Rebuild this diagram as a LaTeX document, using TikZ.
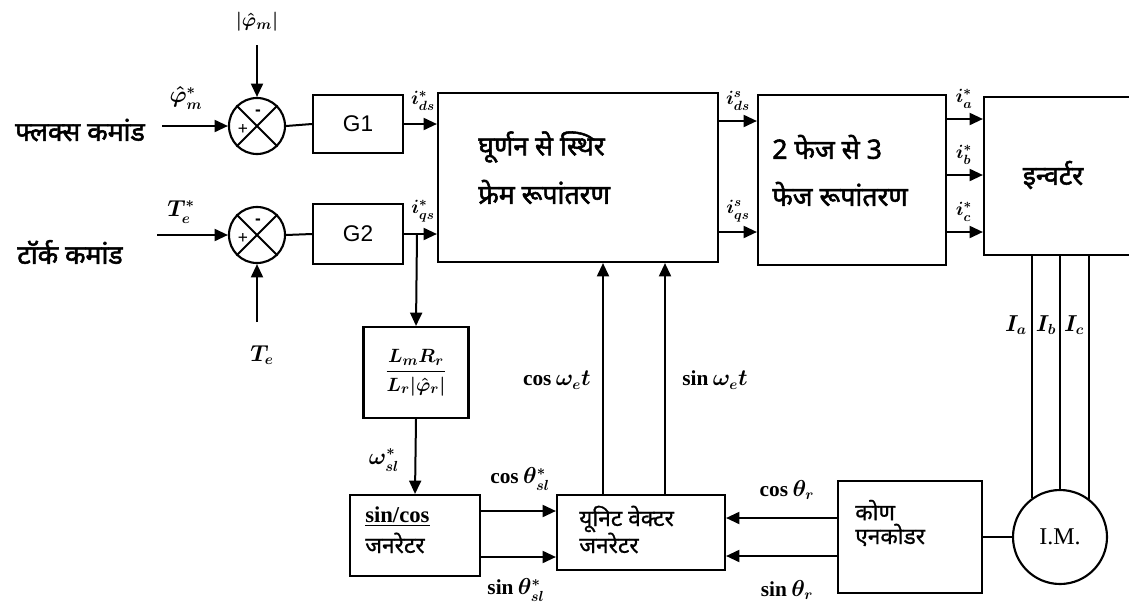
\documentclass[tikz,border=0pt]{standalone}
\usepackage{amsmath}
\usepackage{fontspec}
\setmainfont{Liberation Serif}
\newfontfamily\hindi[Script=Devanagari, FakeBold=0.8]{Noto Sans}
\newfontfamily\hindib[Script=Devanagari, FakeBold=2]{Noto Sans}
\newfontfamily\sansf{Liberation Sans}
\usetikzlibrary{arrows.meta,calc}
\tikzset{
 blk/.style={draw, line width=1.6pt, rectangle, inner sep=2pt},
 sumj/.style={draw, circle, line width=1.6pt, minimum size=42pt, inner sep=0pt},
 arr/.style={line width=1.5pt, -{Triangle[length=10pt,width=9pt]}},
 ln/.style={line width=1.5pt},
 lbl/.style={font=\boldmath\fontsize{16}{18}\selectfont, inner sep=0pt},
 ilbl/.style={font=\boldmath\fontsize{14}{16}\selectfont, inner sep=0pt},
 hl/.style={font=\hindib\fontsize{20}{22}\selectfont, inner sep=0pt},
 hs/.style={font=\hindi\fontsize{17}{17}\selectfont, inner sep=0pt},
}
\begin{document}
\begin{tikzpicture}[x=0.75pt,y=-0.75pt]
\useasboundingbox (0,0) rectangle (1129,604);
% summing junctions
\node[sumj] (S1) at (257,126) {};
\node[sumj] (S2) at (257,235) {};
\foreach \s in {S1,S2}{
  \draw[ln] (\s.45) -- (\s.225) (\s.135) -- (\s.315);
  \node[font=\sansf\fontsize{13}{13}\selectfont, inner sep=0pt] at ($(\s)+(-14,3)$) {+};
  \node[font=\sansf\bfseries\fontsize{13}{13}\selectfont, inner sep=0pt] at ($(\s)+(1,-13)$) {-};
}
% blocks
\node[blk, minimum width=67.5pt, minimum height=43.5pt, font=\sansf\fontsize{17}{19}\selectfont] (G1) at (358,124) {G1};
\node[blk, minimum width=67.5pt, minimum height=45pt, font=\sansf\fontsize{17}{19}\selectfont] (G2) at (358,234) {G2};
\node[blk, minimum width=210pt, minimum height=126.75pt] (R) at (578,177.5) {};
\node[hl, anchor=west] (Rt1) at (478,147) {घूर्णन से स्थिर};
\node[hl, anchor=west] (Rt2) at (478,192) {फ्रेम रूपांतरण};
\node[blk, minimum width=141pt, minimum height=127.5pt] (P) at (852,180) {};
\node[hl, anchor=west] (Pt1) at (772,147) {2 फेज से 3};
\node[hl, anchor=west] (Pt2) at (772,194) {फेज रूपांतरण};
\node[blk, minimum width=117pt, minimum height=118.5pt] (INV) at (1062,176) {};
\node[hl] (INVt) at (1053,175) {इन्वर्टर};
\node[blk, minimum width=78.75pt, minimum height=68.25pt, font=\boldmath\fontsize{15}{17}\selectfont] (LB) at (416,372.5) {$\displaystyle\frac{L_m R_r}{L_r\lvert\hat{\varphi}_r\rvert}$};
\node[blk, minimum width=97.5pt, minimum height=60.75pt] (SC) at (415,535.5) {};
\node[inner sep=0pt, anchor=west, font=\bfseries\fontsize{17}{17}\selectfont] (SCt1) at (365,517) {\underline{sin/cos}};
\node[hs, anchor=west] (SCt2) at (365,543) {जनरेटर};
\node[blk, minimum width=126pt, minimum height=56.25pt] (UV) at (641,532.5) {};
\node[hs, anchor=west] (UVt1) at (579,519) {यूनिट वेक्टर};
\node[hs, anchor=west] (UVt2) at (579,543) {जनरेटर};
\node[blk, minimum width=108pt, minimum height=84pt] (E) at (910,537) {};
\node[hs, anchor=west] (Et1) at (855,510) {कोण};
\node[hs, anchor=west] (Et2) at (855,535) {एनकोडर};
\node[draw, circle, line width=1.6pt, minimum size=70.5pt, inner sep=0pt, font=\fontsize{18}{18}\selectfont] (M) at (1060,537) {I.M.};
% left inputs
\node[hl] (flux) at (80,130) {फ्लक्स कमांड};
\node[hl] (torq) at (70,252) {टॉर्क कमांड};
\coordinate (fin) at (162,126);
\coordinate (tin) at (157,235);
\coordinate (ftop) at (257,45);
\coordinate (tbot) at (257,322);
\draw[arr] (fin) -- (S1.west);
\draw[arr] (tin) -- (S2.west);
\draw[arr] (ftop) -- (S1.north);
\draw[arr] (tbot) -- (S2.south);
\node[lbl] at (186,98) {$\hat{\varphi}_m^*$};
\node[lbl, font=\boldmath\fontsize{15}{17}\selectfont] at (257,22) {$\lvert\hat{\varphi}_m\rvert$};
\node[lbl] at (181,212) {$T_e^*$};
\node[lbl] at (262,355) {$T_e$};
\draw[ln] (S1.east) -- (G1.west);
\draw[ln] (S2.east) -- (G2.west);
\draw[arr] (G1.east) -- (G1.east -| R.west);
\draw[arr] (G2.east) -- (G2.east -| R.west);
\node[ilbl] at (423,101) {$i_{ds}^*$};
\node[ilbl] at (423,211) {$i_{qs}^*$};
% branch to LB
\coordinate (br) at (417,234);
\draw[arr] (br) -- (LB.north);
\draw[arr] (LB.south) -- (SC.north);
\node[lbl] at (384,460) {$\omega_{sl}^*$};
% R -> P
\coordinate (y1) at (0,121);
\coordinate (y2) at (0,232);
\draw[arr] (R.east |- y1) -- (P.west |- y1);
\draw[arr] (R.east |- y2) -- (P.west |- y2);
\node[ilbl] at (738,101) {$i_{ds}^s$};
\node[ilbl] at (738,211) {$i_{qs}^s$};
% P -> INV
\coordinate (ya) at (0,119);
\coordinate (yb) at (0,175);
\coordinate (yc) at (0,232);
\draw[arr] (P.east |- ya) -- (INV.west |- ya);
\draw[arr] (P.east |- yb) -- (INV.west |- yb);
\draw[arr] (P.east |- yc) -- (INV.west |- yc);
\node[ilbl] at (964,99) {$i_a^*$};
\node[ilbl] at (964,155) {$i_b^*$};
\node[ilbl] at (964,212) {$i_c^*$};
% INV -> motor
\draw[ln] (M.126.6 |- INV.south) -- (M.126.6);
\draw[ln] (M.north |- INV.south) -- (M.north);
\draw[ln] (M.53.4 |- INV.south) -- (M.53.4);
\node[lbl] at (1016,325) {$I_a$};
\node[lbl] at (1046,325) {$I_b$};
\node[lbl] at (1074,325) {$I_c$};
% encoder
\draw[ln] (E.east) -- (M.west);
\coordinate (ye1) at (0,518);
\coordinate (ye2) at (0,556);
\draw[arr] (E.west |- ye1) -- (UV.east |- ye1);
\draw[arr] (E.west |- ye2) -- (UV.east |- ye2);
\node[lbl] at (787,490) {$\cos\theta_r$};
\node[lbl] at (787,590) {$\sin\theta_r$};
% sin/cos -> UV
\coordinate (ys1) at (0,511);
\coordinate (ys2) at (0,557);
\draw[arr] (SC.east |- ys1) -- (UV.west |- ys1);
\draw[arr] (SC.east |- ys2) -- (UV.west |- ys2);
\node[lbl] at (520,479) {$\cos\theta_{sl}^*$};
\node[lbl] at (516,590) {$\sin\theta_{sl}^*$};
% UV -> R
\coordinate (xc) at (603,0);
\coordinate (xs) at (665,0);
\draw[arr] (UV.north -| xc) -- (R.south -| xc);
\draw[arr] (UV.north -| xs) -- (R.south -| xs);
\node[lbl, anchor=east] at (591,380) {$\cos\omega_e t$};
\node[lbl, anchor=west] at (682,380) {$\sin\omega_e t$};
\end{tikzpicture}
\end{document}
